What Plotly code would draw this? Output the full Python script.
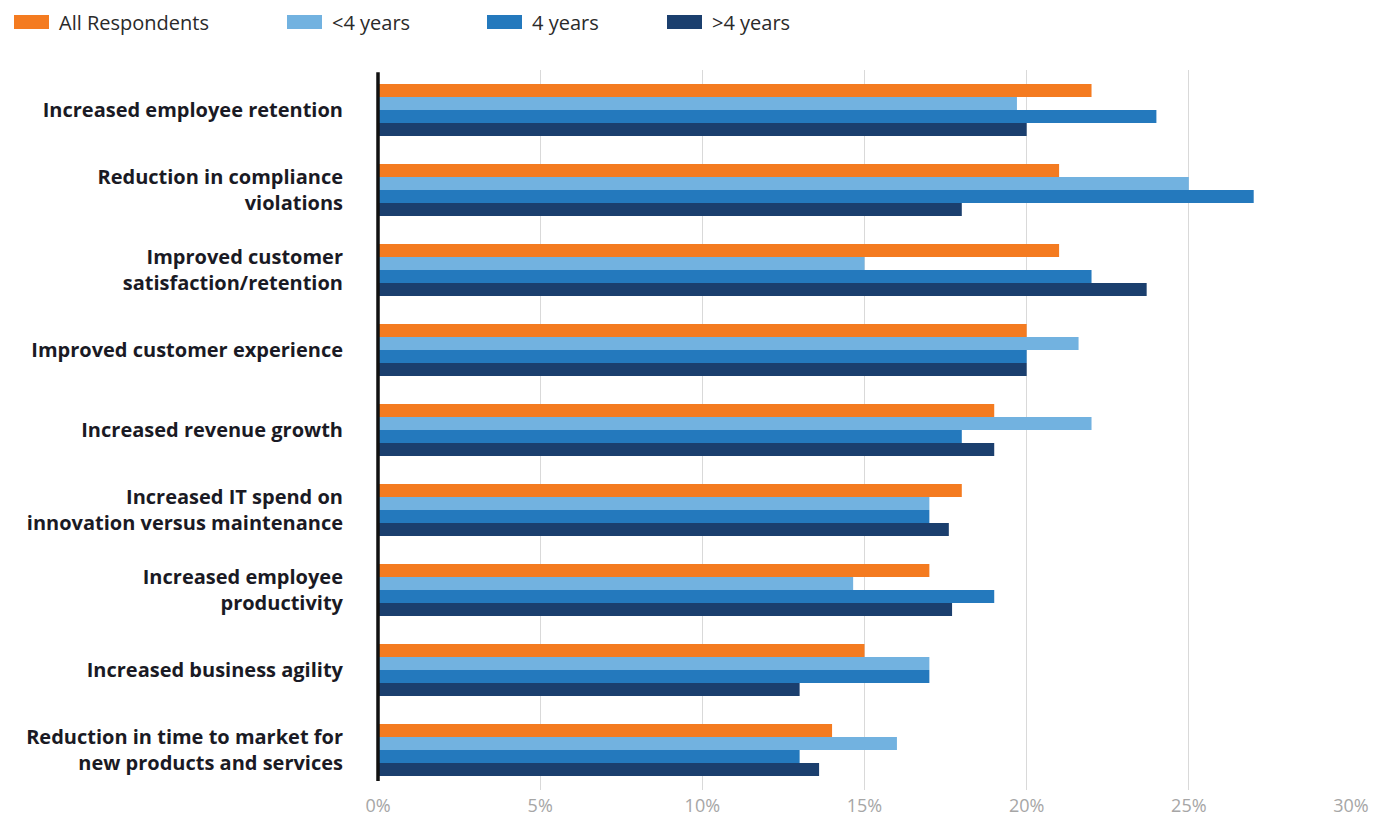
import plotly.graph_objects as go

categories = [
    "Increased employee retention",
    "Reduction in compliance<br>violations",
    "Improved customer<br>satisfaction/retention",
    "Improved customer experience",
    "Increased revenue growth",
    "Increased IT spend on<br>innovation versus maintenance",
    "Increased employee<br>productivity",
    "Increased business agility",
    "Reduction in time to market for<br>new products and services",
]

series_names = ["All Respondents", "<4 years", "4 years", ">4 years"]
all_respondents = [22, 21, 21, 20, 19, 18, 17, 15, 14]
under_4_years = [19.7, 25, 15, 21.6, 22, 17, 14.65, 17, 16]
four_years = [24, 27, 22, 20, 18, 17, 19, 17, 13]
over_4_years = [20, 18, 23.7, 20, 19, 17.6, 17.7, 13, 13.6]

colors = ["#F47B20", "#72B2E0", "#2479BD", "#1B3F6E"]
x_ticks = [0, 5, 10, 15, 20, 25, 30]
x_tick_text = ["0%", "5%", "10%", "15%", "20%", "25%", "30%"]

W, H = 1374, 821
M_L, M_R, M_T, M_B = 378, 23, 70, 31
PLOT_W = W - M_L - M_R
PLOT_H = H - M_T - M_B

fig = go.Figure()
for name, vals, col in zip(series_names,
                           [all_respondents, under_4_years, four_years, over_4_years],
                           colors):
    fig.add_trace(go.Bar(
        y=categories, x=vals, name=name, orientation="h",
        marker=dict(color=col, line=dict(width=0)),
        showlegend=False,
    ))

# Custom legend row across the top (swatch + label)
legend_px = [14, 287, 487, 667]
shapes = []
annotations = []
for name, col, px in zip(series_names, colors, legend_px):
    shapes.append(dict(
        type="rect", xref="paper", yref="paper",
        xsizemode="pixel", ysizemode="pixel", xanchor=0, yanchor=1,
        x0=px - M_L, x1=px + 35 - M_L, y0=M_T - 29, y1=M_T - 15,
        fillcolor=col, line=dict(width=0),
    ))
    annotations.append(dict(
        xref="paper", yref="paper",
        x=(px + 43 - M_L) / PLOT_W, y=1 + (M_T - 22) / PLOT_H,
        xanchor="left", yanchor="middle", showarrow=False,
        text=name, font=dict(family="Open Sans", size=20, color="#2A2A2A"),
    ))

# Heavy baseline at 0%
shapes.append(dict(
    type="line", xref="paper", yref="paper", x0=0, x1=0, y0=0.0125, y1=0.997,
    line=dict(color="#111111", width=3.5), layer="above",
))

fig.update_layout(
    width=W, height=H,
    margin=dict(l=M_L, r=M_R, t=M_T, b=M_B, autoexpand=False),
    paper_bgcolor="white", plot_bgcolor="white",
    barmode="group", bargap=0.35, bargroupgap=0,
    shapes=shapes, annotations=annotations,
    font=dict(family="Open Sans"),
)
fig.update_xaxes(
    range=[0, 30], tickvals=x_ticks, ticktext=x_tick_text,
    showgrid=True, gridcolor="#D9D9D9", gridwidth=1,
    zeroline=False, showline=False, automargin=False,
    tickfont=dict(family="Open Sans", size=18, color="#A6A6A6"),
    ticklabelstandoff=3,
)
fig.update_yaxes(
    autorange="reversed", showgrid=False, zeroline=False, showline=False,
    automargin=False,
    tickfont=dict(family="Open Sans", size=20, color="#1A1A24", weight="bold"),
    ticklabelstandoff=34,
)

fig.write_html("out.html")
